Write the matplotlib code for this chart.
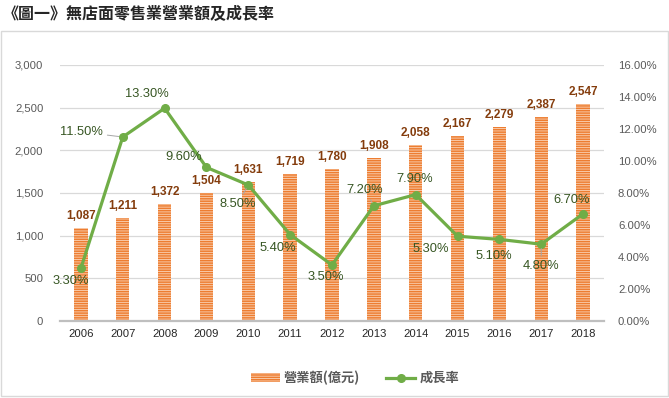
import matplotlib
matplotlib.use("Agg")
import matplotlib.pyplot as plt
from matplotlib.lines import Line2D
from matplotlib.patches import Patch, Rectangle
from matplotlib.ticker import FuncFormatter, MultipleLocator

years = ["2006", "2007", "2008", "2009", "2010", "2011", "2012",
         "2013", "2014", "2015", "2016", "2017", "2018"]
revenue = [1087, 1211, 1372, 1504, 1631, 1719, 1780, 1908, 2058, 2167, 2279, 2387, 2547]
growth = [3.30, 11.50, 13.30, 9.60, 8.50, 5.40, 3.50, 7.20, 7.90, 5.30, 5.10, 4.80, 6.70]

# label offsets in pixels (dx, dy up) relative to each line point
pct_offsets = [(-10, -13), (-41, 5), (-18, 14), (-23, 10), (-11, -19), (-12, -13),
               (-6, -12), (-9, 16), (-1, 16), (-27, -13), (-6, -17), (0, -22), (-11, 14)]
leader = [False, True, False, False, True, False, False, True, False, False, False, True, False]

FONTS = ["Liberation Sans", "Noto Sans CJK TC", "DejaVu Sans"]
plt.rcParams["font.family"] = FONTS
plt.rcParams["hatch.linewidth"] = 1.1

C_BAR = "#ED7D31"
C_BAR_FACE = "#FAD3B6"
C_LINE = "#70AD47"
C_PCT = "#375623"
C_VAL = "#843C0C"
C_TICK = "#595959"
C_GRID = "#D9D9D9"

fig = plt.figure(figsize=(6.69, 3.98), dpi=100)
ax = fig.add_axes([60 / 669, 1 - 321 / 398, 544 / 669, 256 / 398])
ax2 = ax.twinx()

x = list(range(len(years)))
ax.bar(x, revenue, width=0.32, color=C_BAR_FACE, edgecolor=C_BAR, hatch="-------",
       linewidth=0, zorder=2)
ax.set_xlim(-0.5, len(years) - 0.5)
ax.set_ylim(0, 3000)
ax.yaxis.set_major_locator(MultipleLocator(500))
ax.yaxis.set_major_formatter(FuncFormatter(lambda v, p: f"{int(v):,}"))
ax.grid(axis="y", color=C_GRID, linewidth=0.9, zorder=0)
ax.set_axisbelow(True)
ax.set_xticks(x)
ax.set_xticklabels(years)

for xi, v in zip(x, revenue):
    ax.annotate(f"{v:,}", (xi, v), xytext=(0, 12), textcoords="offset pixels",
                ha="center", va="center", fontsize=8.5, fontweight="bold", color=C_VAL)

ax2.plot(x, growth, color=C_LINE, linewidth=2.3, marker="o", markersize=5.5, zorder=3)
ax2.set_ylim(0, 16)
ax2.yaxis.set_major_locator(MultipleLocator(2))
ax2.yaxis.set_major_formatter(FuncFormatter(lambda v, p: f"{v:.2f}%"))

for xi, g, (dx, dy), ld in zip(x, growth, pct_offsets, leader):
    kw = {}
    if ld:
        kw["arrowprops"] = dict(arrowstyle="-", color="#A6A6A6", lw=0.7, shrinkA=1, shrinkB=3)
    ax2.annotate(f"{g:.2f}%", (xi, g), xytext=(dx, dy), textcoords="offset pixels",
                 ha="center", va="center", fontsize=9.3, color=C_PCT, **kw)

for a in (ax, ax2):
    for s in a.spines.values():
        s.set_visible(False)
ax.spines["bottom"].set_visible(True)
ax.spines["bottom"].set_color("#BFBFBF")
ax.spines["bottom"].set_linewidth(1.6)

ax.tick_params(axis="y", length=0, pad=12, labelsize=8.1, labelcolor=C_TICK)
ax.tick_params(axis="x", length=0, pad=6, labelsize=8.1, labelcolor="#262626")
ax2.tick_params(axis="y", length=0, pad=10, labelsize=8.1, labelcolor=C_TICK)

# outer chart border
fig.patches.append(Rectangle((1 / 669, 2 / 398), 667 / 669, 365 / 398, transform=fig.transFigure,
                             fill=False, edgecolor=C_GRID, linewidth=1.0))

fig.text(3 / 669, 1 - 14 / 398, "《圖一》無店面零售業營業額及成長率", ha="left", va="center",
         fontsize=11.5, fontweight="bold", color="#262626",
         family=["Noto Sans CJK TC", "DejaVu Sans"])

handles = [
    Patch(facecolor=C_BAR_FACE, edgecolor=C_BAR, hatch="-------", linewidth=0),
    Line2D([0], [0], color=C_LINE, linewidth=2.3, marker="o", markersize=5.5),
]
fig.legend(handles, ["營業額(億元)", "成長率"], loc="center", ncol=2, frameon=False,
           bbox_to_anchor=(355 / 669, 1 - 378 / 398), handlelength=2.2, columnspacing=2.0,
           handletextpad=0.3, prop={"family": ["Noto Sans CJK TC", "DejaVu Sans"],
                                    "size": 9.5, "weight": "bold"}, labelcolor=C_TICK)

fig.savefig("out.png", dpi=100, facecolor="white")
